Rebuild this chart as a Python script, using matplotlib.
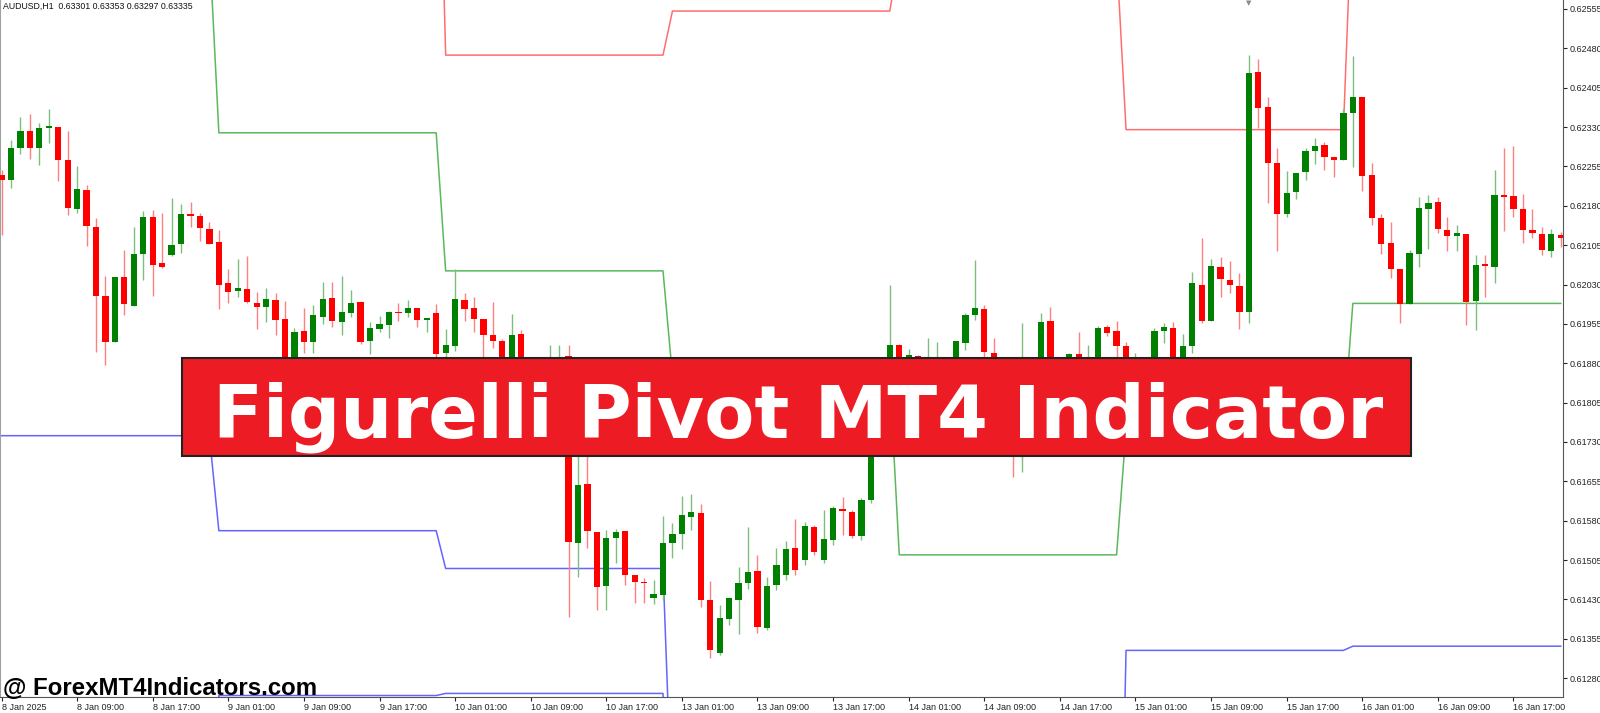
import matplotlib
matplotlib.use("Agg")
import matplotlib.pyplot as plt
import numpy as np
from matplotlib.patches import Rectangle

plt.rcParams["font.family"] = ["Liberation Sans", "DejaVu Sans"]

W, H, DPI = 1600, 713, 100

symbol_line = "AUDUSD,H1  0.63301 0.63353 0.63297 0.63335"
banner_title = "Figurelli Pivot MT4 Indicator"
watermark = "@ ForexMT4Indicators.com"

# one label every 8 hourly bars, first one on bar 0
time_labels = [
    "8 Jan 2025", "8 Jan 09:00", "8 Jan 17:00", "9 Jan 01:00", "9 Jan 09:00",
    "9 Jan 17:00", "10 Jan 01:00", "10 Jan 09:00", "10 Jan 17:00", "13 Jan 01:00",
    "13 Jan 09:00", "13 Jan 17:00", "14 Jan 01:00", "14 Jan 09:00", "14 Jan 17:00",
    "15 Jan 01:00", "15 Jan 09:00", "15 Jan 17:00", "16 Jan 01:00", "16 Jan 09:00",
    "16 Jan 17:00",
]
label_step = 8

price_ticks = [0.61280, 0.61355, 0.61430, 0.61505, 0.61580, 0.61655, 0.61730, 0.61805,
               0.61880, 0.61955, 0.62030, 0.62105, 0.62180, 0.62255, 0.62330, 0.62405,
               0.62480, 0.62555]

# AUDUSD H1 candles
opens = [
    0.62239, 0.62230, 0.62291, 0.62323, 0.62291, 0.62329, 0.62330, 0.62268, 0.62174, 0.62210,
    0.62140, 0.62008, 0.61921, 0.62045, 0.61990, 0.62088, 0.62159, 0.62071, 0.62086, 0.62107,
    0.62164, 0.62160, 0.62136, 0.62111, 0.62032, 0.62017, 0.62021, 0.61994, 0.61988, 0.62000,
    0.61964, 0.61882, 0.61941, 0.61920, 0.61969, 0.62004, 0.61959, 0.61976, 0.61996, 0.61922,
    0.61945, 0.61953, 0.61978, 0.61976, 0.61985, 0.61962, 0.61976, 0.61899, 0.61913, 0.62001,
    0.61986, 0.61964, 0.61933, 0.61922, 0.61882, 0.61935, 0.61858, 0.61829, 0.61810, 0.61858,
    0.61894, 0.61538, 0.61650, 0.61558, 0.61455, 0.61547, 0.61560, 0.61477, 0.61463, 0.61432,
    0.61439, 0.61537, 0.61555, 0.61588, 0.61595, 0.61429, 0.61328, 0.61392, 0.61429, 0.61461,
    0.61484, 0.61376, 0.61458, 0.61477, 0.61529, 0.61505, 0.61569, 0.61505, 0.61543, 0.61602,
    0.61597, 0.61550, 0.61620, 0.61724, 0.61852, 0.61915, 0.61871, 0.61894, 0.61858, 0.61867,
    0.61886, 0.61863, 0.61919, 0.61971, 0.61983, 0.61900, 0.61858, 0.61810, 0.61753, 0.61810,
    0.61848, 0.61961, 0.61848, 0.61863, 0.61898, 0.61863, 0.61877, 0.61949, 0.61941, 0.61912,
    0.61852, 0.61877, 0.61863, 0.61942, 0.61948, 0.61877, 0.61913, 0.62030, 0.61961, 0.62064,
    0.62038, 0.62027, 0.61978, 0.62434, 0.62369, 0.62262, 0.62164, 0.62207, 0.62244, 0.62284,
    0.62295, 0.62272, 0.62268, 0.62356, 0.62388, 0.62239, 0.62157, 0.62110, 0.62060, 0.61992,
    0.62088, 0.62174, 0.62187, 0.62134, 0.62123, 0.62126, 0.61999, 0.62070, 0.62064, 0.62200,
    0.62199, 0.62174, 0.62134, 0.62126, 0.62094, 0.62125,
]
highs = [
    0.62248, 0.62305, 0.62349, 0.62355, 0.62337, 0.62364, 0.62331, 0.62322, 0.62256, 0.62220,
    0.62157, 0.62046, 0.62045, 0.62096, 0.62140, 0.62170, 0.62171, 0.62167, 0.62194, 0.62184,
    0.62187, 0.62167, 0.62149, 0.62134, 0.62059, 0.62078, 0.62084, 0.62016, 0.62023, 0.62013,
    0.61999, 0.61947, 0.61986, 0.61991, 0.62034, 0.62035, 0.62046, 0.62020, 0.61999, 0.61958,
    0.61970, 0.61980, 0.61994, 0.62001, 0.61986, 0.61967, 0.61992, 0.61945, 0.62060, 0.62013,
    0.62006, 0.61965, 0.61996, 0.61926, 0.61973, 0.61943, 0.61867, 0.61839, 0.61915, 0.61915,
    0.61915, 0.61715, 0.61715, 0.61559, 0.61562, 0.61564, 0.61561, 0.61477, 0.61470, 0.61468,
    0.61589, 0.61576, 0.61628, 0.61631, 0.61611, 0.61465, 0.61420, 0.61435, 0.61491, 0.61569,
    0.61515, 0.61473, 0.61528, 0.61541, 0.61584, 0.61578, 0.61572, 0.61600, 0.61609, 0.61625,
    0.61600, 0.61623, 0.61753, 0.61877, 0.62029, 0.61917, 0.61907, 0.61896, 0.61928, 0.61921,
    0.61890, 0.61922, 0.61975, 0.62077, 0.61991, 0.61929, 0.61867, 0.61820, 0.61957, 0.61877,
    0.61975, 0.61988, 0.61877, 0.61900, 0.61939, 0.61914, 0.61951, 0.61953, 0.61961, 0.61921,
    0.61899, 0.61886, 0.61947, 0.61957, 0.61959, 0.61936, 0.62053, 0.62118, 0.62079, 0.62082,
    0.62075, 0.62051, 0.62468, 0.62460, 0.62387, 0.62290, 0.62247, 0.62243, 0.62291, 0.62309,
    0.62302, 0.62273, 0.62364, 0.62465, 0.62388, 0.62261, 0.62164, 0.62150, 0.62060, 0.62096,
    0.62197, 0.62201, 0.62197, 0.62159, 0.62143, 0.62126, 0.62086, 0.62086, 0.62248, 0.62290,
    0.62293, 0.62203, 0.62173, 0.62140, 0.62135, 0.62130,
]
lows = [
    0.62124, 0.62213, 0.62278, 0.62269, 0.62258, 0.62299, 0.62228, 0.62163, 0.62167, 0.62103,
    0.61901, 0.61876, 0.61920, 0.61971, 0.61989, 0.62039, 0.62009, 0.62062, 0.62085, 0.62090,
    0.62140, 0.62112, 0.62107, 0.61983, 0.61994, 0.62007, 0.61995, 0.61945, 0.61959, 0.61933,
    0.61863, 0.61871, 0.61900, 0.61900, 0.61955, 0.61950, 0.61933, 0.61969, 0.61917, 0.61898,
    0.61940, 0.61929, 0.61961, 0.61968, 0.61950, 0.61939, 0.61885, 0.61885, 0.61904, 0.61961,
    0.61939, 0.61882, 0.61909, 0.61867, 0.61875, 0.61848, 0.61814, 0.61795, 0.61801, 0.61839,
    0.61396, 0.61473, 0.61529, 0.61410, 0.61410, 0.61499, 0.61458, 0.61423, 0.61423, 0.61421,
    0.61429, 0.61509, 0.61527, 0.61562, 0.61415, 0.61319, 0.61324, 0.61381, 0.61364, 0.61449,
    0.61366, 0.61372, 0.61448, 0.61467, 0.61477, 0.61496, 0.61515, 0.61500, 0.61534, 0.61553,
    0.61548, 0.61543, 0.61613, 0.61715, 0.61840, 0.61863, 0.61858, 0.61848, 0.61839, 0.61848,
    0.61839, 0.61852, 0.61905, 0.61962, 0.61890, 0.61839, 0.61791, 0.61664, 0.61672, 0.61801,
    0.61839, 0.61829, 0.61825, 0.61848, 0.61852, 0.61848, 0.61863, 0.61932, 0.61890, 0.61848,
    0.61839, 0.61848, 0.61852, 0.61919, 0.61863, 0.61867, 0.61900, 0.61956, 0.61960, 0.62006,
    0.62013, 0.61945, 0.61957, 0.62329, 0.62185, 0.62094, 0.62159, 0.62192, 0.62230, 0.62259,
    0.62248, 0.62235, 0.62267, 0.62253, 0.62209, 0.62143, 0.62088, 0.62043, 0.61957, 0.61992,
    0.62063, 0.62098, 0.62128, 0.62093, 0.62093, 0.61953, 0.61943, 0.62007, 0.62032, 0.62131,
    0.62158, 0.62110, 0.62119, 0.62086, 0.62082, 0.62101,
]
closes = [
    0.62230, 0.62291, 0.62322, 0.62291, 0.62329, 0.62330, 0.62267, 0.62176, 0.62212, 0.62141,
    0.62008, 0.61920, 0.62044, 0.61992, 0.62088, 0.62159, 0.62068, 0.62063, 0.62105, 0.62164,
    0.62161, 0.62138, 0.62108, 0.62030, 0.62016, 0.62023, 0.61996, 0.61988, 0.62002, 0.61962,
    0.61877, 0.61940, 0.61921, 0.61971, 0.62002, 0.61961, 0.61978, 0.61995, 0.61921, 0.61947,
    0.61955, 0.61977, 0.61975, 0.61986, 0.61962, 0.61966, 0.61898, 0.61915, 0.62003, 0.61984,
    0.61965, 0.61933, 0.61923, 0.61882, 0.61934, 0.61858, 0.61829, 0.61810, 0.61858, 0.61882,
    0.61539, 0.61648, 0.61560, 0.61454, 0.61548, 0.61558, 0.61477, 0.61464, 0.61461, 0.61440,
    0.61538, 0.61555, 0.61590, 0.61597, 0.61429, 0.61334, 0.61394, 0.61432, 0.61462, 0.61482,
    0.61378, 0.61456, 0.61496, 0.61526, 0.61486, 0.61570, 0.61520, 0.61545, 0.61605, 0.61599,
    0.61551, 0.61620, 0.61724, 0.61848, 0.61915, 0.61877, 0.61895, 0.61867, 0.61882, 0.61886,
    0.61863, 0.61922, 0.61971, 0.61985, 0.61901, 0.61858, 0.61810, 0.61753, 0.61810, 0.61848,
    0.61959, 0.61848, 0.61858, 0.61898, 0.61871, 0.61882, 0.61947, 0.61938, 0.61913, 0.61863,
    0.61877, 0.61863, 0.61942, 0.61950, 0.61877, 0.61912, 0.62032, 0.61961, 0.62065, 0.62040,
    0.62029, 0.61978, 0.62432, 0.62367, 0.62262, 0.62164, 0.62205, 0.62243, 0.62284, 0.62294,
    0.62273, 0.62267, 0.62356, 0.62387, 0.62237, 0.62157, 0.62108, 0.62060, 0.61993, 0.62090,
    0.62176, 0.62186, 0.62135, 0.62123, 0.62128, 0.61997, 0.62068, 0.62066, 0.62201, 0.62197,
    0.62174, 0.62134, 0.62129, 0.62096, 0.62126, 0.62119,
]

# Figurelli pivot levels, one value per trading day
day_lengths = [23, 24, 24, 24, 24, 24, 23]
pivot_level = [0.62676, 0.62319, 0.62056, 0.61856, 0.61515, 0.61753, 0.61994]
resistance_level = [0.63100, 0.63144, 0.62467, 0.62551, 0.62658, 0.62325, 0.62795]
support_level = [0.61742, 0.61561, 0.61489, 0.60999, 0.60477, 0.61333, 0.61341]
support2_level = [0.61000, 0.61247, 0.61251, 0.60600, 0.60000, 0.60500, 0.60600]

UP_BODY, DOWN_BODY = "#008000", "#ff0000"
UP_WICK, DOWN_WICK = "#7cbf7c", "#ff8080"
PIVOT_COLOR, RES_COLOR, SUP_COLOR = "#5cb85c", "#ff6e6e", "#6464ff"


def fx(px: float) -> float:
    return px / W


def fy(py: float) -> float:
    return 1.0 - py / H


def draw_candles(ax) -> None:
    o, h, l, c = (np.array(v) for v in (opens, highs, lows, closes))
    x = np.arange(len(o))
    up = c > o
    bottom = np.minimum(o, c)
    height = np.maximum(np.abs(c - o), 0.00003)
    for mask, wick, body in ((up, UP_WICK, UP_BODY), (~up, DOWN_WICK, DOWN_BODY)):
        ax.vlines(x[mask], l[mask], h[mask], color=wick, linewidth=1.0, zorder=2)
        ax.bar(x[mask], height[mask], bottom=bottom[mask], width=0.66,
               color=body, linewidth=0, zorder=3)


def draw_levels(ax) -> None:
    x = np.arange(len(opens))
    for levels, color in ((pivot_level, PIVOT_COLOR), (resistance_level, RES_COLOR),
                          (support_level, SUP_COLOR), (support2_level, SUP_COLOR)):
        ax.plot(x, np.repeat(levels, day_lengths), color=color, linewidth=1.1, zorder=1.5)


def main() -> None:
    fig = plt.figure(figsize=(W / DPI, H / DPI), dpi=DPI)
    fig.patch.set_facecolor("white")
    ax = fig.add_axes([0, fy(697), fx(1563), 697 / H])

    draw_levels(ax)
    draw_candles(ax)

    ax.set_xlim(-0.16, 165.24)
    ax.set_ylim(0.612442, 0.62572)

    ax.set_xticks(np.arange(len(time_labels)) * label_step)
    ax.set_xticklabels(time_labels)
    for lbl in ax.get_xticklabels():
        lbl.set_horizontalalignment("left")
    ax.set_yticks(price_ticks)
    ax.set_yticklabels([f"{p:.5f}" for p in price_ticks])

    ax.yaxis.tick_right()
    ax.tick_params(axis="y", length=3, width=0.8, pad=2, labelsize=6.5, colors="#222222")
    ax.tick_params(axis="x", length=3, width=0.8, pad=1.5, labelsize=6.5, colors="#222222")

    ax.spines["top"].set_visible(False)
    ax.spines["left"].set_color("#a0a0a0")
    ax.spines["right"].set_color("#555555")
    ax.spines["bottom"].set_color("#555555")

    fig.text(fx(3), fy(6), symbol_line, fontsize=6.3, va="center", ha="left", color="#111111")

    # chart shift marker at the top edge
    fig.text(fx(1249), fy(3), "\u25bc", fontsize=5, color="#8a8a8a", ha="center", va="center",
             family="DejaVu Sans")

    fig.patches.append(Rectangle((fx(181.6), fy(456)), fx(1411) - fx(181.6), fy(358) - fy(456),
                                 transform=fig.transFigure, facecolor="#ed1c24",
                                 edgecolor="#222222", linewidth=1.5, zorder=5))
    fig.text(fx(798.5), fy(437.3), banner_title, fontsize=52.6, fontweight="bold",
             family="DejaVu Sans", color="white", ha="center", va="baseline", zorder=6)

    fig.text(fx(3), fy(695), watermark, fontsize=17.3, fontweight="bold", color="black",
             ha="left", va="baseline", zorder=6)

    fig.savefig("out.png", dpi=DPI)
    plt.close(fig)


if __name__ == "__main__":
    main()
